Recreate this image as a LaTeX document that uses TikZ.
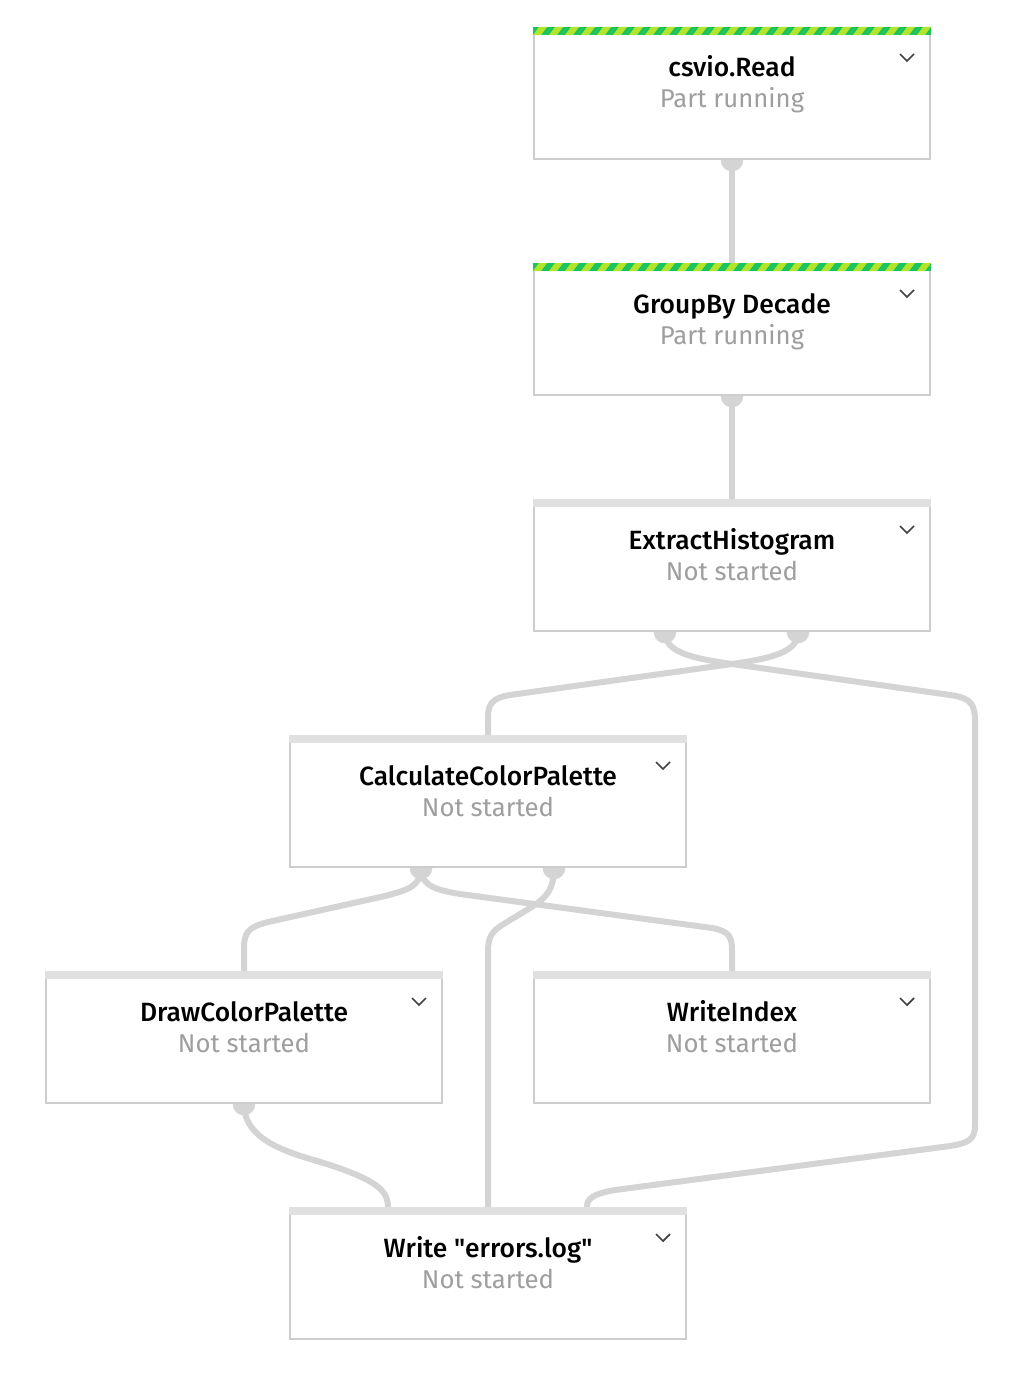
\documentclass[tikz,border=0pt]{standalone}
\usepackage{fontspec}
\setmainfont{Fira Sans}[BoldFont={Fira Sans Medium}]
\usepackage{xcolor}
\usepackage{tikz}
\usetikzlibrary{backgrounds}
\definecolor{wiregray}{HTML}{D4D4D4}
\definecolor{framegray}{HTML}{CDCDCD}
\definecolor{bargray}{HTML}{E0E0E0}
\definecolor{statusgray}{HTML}{9E9E9E}
\definecolor{chevgray}{HTML}{424242}
\definecolor{rungreen}{HTML}{1DC35C}
\definecolor{runlime}{HTML}{B2E62C}

\begin{document}
\begin{tikzpicture}[x=0.75pt, y=-0.75pt,
  stage/.style={rectangle, draw=framegray, line width=1.5pt, fill=white,
    minimum width=297pt, minimum height=98.25pt, inner sep=0pt},
  stagetitle/.style={anchor=base, font=\fontsize{19.8}{22}\selectfont\bfseries, text=black},
  stagestatus/.style={anchor=base, font=\fontsize{19.3}{22}\selectfont, text=statusgray},
  wire/.style={draw=wiregray, line width=4.5pt},
  chev/.style={draw=chevgray, line width=1.3pt}]
  \useasboundingbox (0,0) rectangle (1008,1380);

  % stages
  \node[stage] (read) at (732,93.5) {};
  \node[stage] (group) at (732,329.5) {};
  \node[stage] (ext) at (732,565.5) {};
  \node[stage] (calcpal) at (488,801.5) {};
  \node[stage] (drawpal) at (244,1037.5) {};
  \node[stage] (widx) at (732,1037.5) {};
  \node[stage] (errs) at (488,1273.5) {};

  % running stripes
  \foreach \s in {read, group} {
    \begin{scope}
      \clip (\s.north west) rectangle ([shift={(0,8)}]\s.north east);
      \fill[rungreen] (\s.north west) rectangle ([shift={(0,8)}]\s.north east);
      \foreach \i in {0,...,25}
        \fill[runlime] ([shift={(\i*16,8)}]\s.north west) -- ++(8,0) -- ++(6,-8) -- ++(-8,0) -- cycle;
    \end{scope}
  }
  % grey bars
  \foreach \s in {ext, calcpal, drawpal, widx, errs}
    \fill[bargray] (\s.north west) rectangle ([shift={(0,8)}]\s.north east);

  % labels
  \node[stagetitle] (read-t) at ([yshift=-37.5pt]read.north) {csvio.Read};
  \node[stagestatus] (read-s) at ([yshift=-60.75pt]read.north) {Part running};
  \node[stagetitle] (group-t) at ([yshift=-37.5pt]group.north) {GroupBy Decade};
  \node[stagestatus] (group-s) at ([yshift=-60.75pt]group.north) {Part running};
  \node[stagetitle] (ext-t) at ([yshift=-37.5pt]ext.north) {ExtractHistogram};
  \node[stagestatus] (ext-s) at ([yshift=-60.75pt]ext.north) {Not started};
  \node[stagetitle] (calcpal-t) at ([yshift=-37.5pt]calcpal.north) {CalculateColorPalette};
  \node[stagestatus] (calcpal-s) at ([yshift=-60.75pt]calcpal.north) {Not started};
  \node[stagetitle] (drawpal-t) at ([yshift=-37.5pt]drawpal.north) {DrawColorPalette};
  \node[stagestatus] (drawpal-s) at ([yshift=-60.75pt]drawpal.north) {Not started};
  \node[stagetitle] (widx-t) at ([yshift=-37.5pt]widx.north) {WriteIndex};
  \node[stagestatus] (widx-s) at ([yshift=-60.75pt]widx.north) {Not started};
  \node[stagetitle] (errs-t) at ([yshift=-37.5pt]errs.north) {Write \textquotedbl errors.log\textquotedbl};
  \node[stagestatus] (errs-s) at ([yshift=-60.75pt]errs.north) {Not started};

  % chevrons
  \foreach \s in {read, group, ext, calcpal, drawpal, widx, errs}
    \draw[chev] ([shift={(-31,27)}]\s.north east) -- ++(7,7) -- ++(7,-7);

  % ports
  \coordinate (read-out) at (read.south);
  \coordinate (group-out) at (group.south);
  \coordinate (ext-out1) at ([shift={(-67,0)}]ext.south);
  \coordinate (ext-out2) at ([shift={(66,0)}]ext.south);
  \coordinate (calcpal-out1) at ([shift={(-67,0)}]calcpal.south);
  \coordinate (calcpal-out2) at ([shift={(66,0)}]calcpal.south);
  \coordinate (drawpal-out) at (drawpal.south);
  \coordinate (errs-in1) at ([shift={(-100,0)}]errs.north);
  \coordinate (errs-in3) at ([shift={(99,0)}]errs.north);

  % connectors
  \begin{scope}[on background layer]
    \fill[white] (0,0) rectangle (1008,1380);
    \draw[wire] (read) -- (group);
    \draw[wire] (group) -- (ext);
    \draw[wire] (ext-out1) .. controls (665,652) and (690,658) .. (732,664)
      -- (950,695) .. controls (972,698) and (975,705) .. (975,722)
      -- (975,1125) .. controls (975,1140) and (968,1143) .. (950,1146)
      -- (615,1190) .. controls (592,1194) and (587,1199) .. (errs-in3);
    \draw[wire] (ext-out2) .. controls (798,652) and (773,658) .. (732,664)
      -- (510,695) .. controls (492,698) and (488,704) .. (488,718) -- (calcpal);
    \draw[wire] (calcpal-out1) .. controls (421,886) and (408,890) .. (385,896)
      -- (268,922) .. controls (248,927) and (244,933) .. (244,948) -- (drawpal);
    \draw[wire] (calcpal-out1) .. controls (421,886) and (436,890) .. (460,894)
      -- (712,928) .. controls (729,931) and (732,937) .. (732,950) -- (widx);
    \draw[wire] (calcpal-out2) .. controls (554,890) and (546,898) .. (530,908)
      -- (502,925) .. controls (491,932) and (488,938) .. (488,952) -- (errs);
    \draw[wire] (drawpal-out) .. controls (244,1145) and (300,1155) .. (330,1165)
      .. controls (375,1180) and (388,1190) .. (errs-in1);
    \foreach \p in {read-out, group-out, ext-out1, ext-out2, calcpal-out1, calcpal-out2, drawpal-out}
      \fill[wiregray] (\p) circle[radius=8.5pt];
  \end{scope}
\end{tikzpicture}
\end{document}
